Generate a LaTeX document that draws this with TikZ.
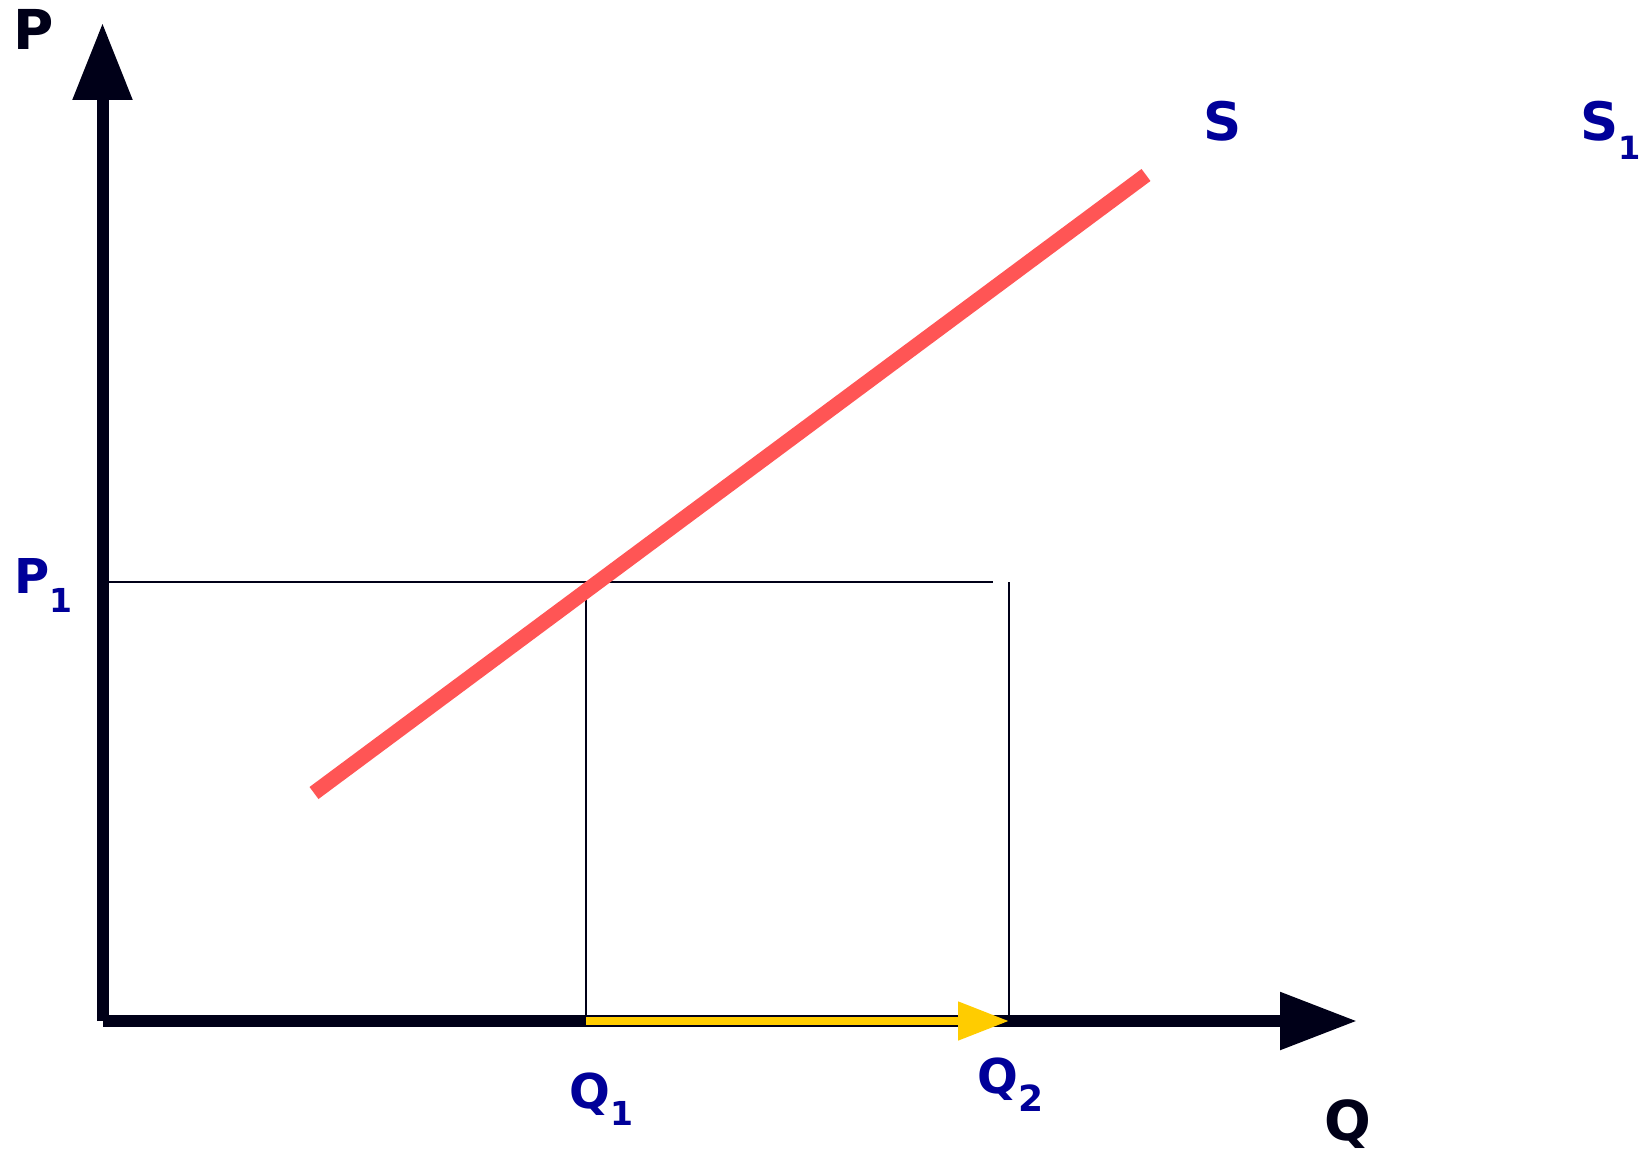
\documentclass[tikz,border=0pt]{standalone}
\usepackage{fontspec}
\setmainfont{DejaVu Sans}
\usetikzlibrary{arrows.meta}
\definecolor{axiscol}{RGB}{0,0,24}
\definecolor{lblue}{RGB}{0,0,153}
\definecolor{supred}{RGB}{255,85,85}
\definecolor{shiftyel}{RGB}{255,204,0}
\tikzset{
  axis/.style={draw=axiscol, line width=12pt},
  guide/.style={draw=axiscol, line width=1.5pt},
  lbl/.style={inner sep=0pt, anchor=base west, font=\bfseries},
}
\newcommand{\subdig}[3]{\raisebox{-#2pt}{\fontsize{#3}{#3}\selectfont #1}}
\begin{document}
\begin{tikzpicture}[x=1pt,y=-1pt]
\useasboundingbox[fill=white] (0,0) rectangle (1643,1153);
% coordinates
\coordinate (O) at (102.5,1021);
\coordinate (Xs) at (102.5,1021);
\coordinate (Ytip) at (102.5,23);
\coordinate (Xtip) at (1357,1021);
\coordinate (Sa) at (314,793);
\coordinate (Sb) at (1146,175);
\coordinate (P1l) at (108,582);
\coordinate (P1r) at (993,582);
\coordinate (E) at (586,582);
\coordinate (Q1) at (586,1021);
\coordinate (Q2t) at (1009,582);
\coordinate (Q2) at (1009,1021);
% guides
\draw[guide] (P1l) -- (P1r);
\draw[guide] (E) -- (Q1);
\draw[guide] (Q2t) -- (Q2);
% axes
\draw[axis, -{Triangle[length=77pt,width=57pt]}] (O) -- (Ytip);
\draw[axis, -{Triangle[length=77pt,width=55pt]}] (Xs) -- (Xtip);
% shift arrow
\draw[draw=shiftyel, fill=shiftyel, line width=8pt, -{Triangle[length=51pt,width=37pt]}] (Q1) -- (Q2);
% supply curve
\draw[draw=supred, line width=15pt] (Sa) -- (Sb);
% labels
\node[lbl, text=axiscol, font=\bfseries\fontsize{55}{55}\selectfont] (Plab) at (13,50) {P};
\node[lbl, text=axiscol, font=\bfseries\fontsize{55}{55}\selectfont] (Qlab) at (1324,1140) {Q};
\node[lbl, text=lblue, font=\bfseries\fontsize{53}{53}\selectfont] (Slab) at (1203,141) {S};
\node[lbl, text=lblue, font=\bfseries\fontsize{53}{53}\selectfont] (S1lab) at (1580,141) {S\subdig{1}{18}{32}};
\node[lbl, text=lblue, font=\bfseries\fontsize{48}{48}\selectfont] (P1lab) at (14,593) {P\subdig{1}{19}{33}};
\node[lbl, text=lblue, font=\bfseries\fontsize{48}{48}\selectfont] (Q1lab) at (569,1108) {Q\subdig{1}{17}{33}};
\node[lbl, text=lblue, font=\bfseries\fontsize{48}{48}\selectfont] (Q2lab) at (977,1093) {Q\subdig{2}{18}{36}};
\end{tikzpicture}
\end{document}
